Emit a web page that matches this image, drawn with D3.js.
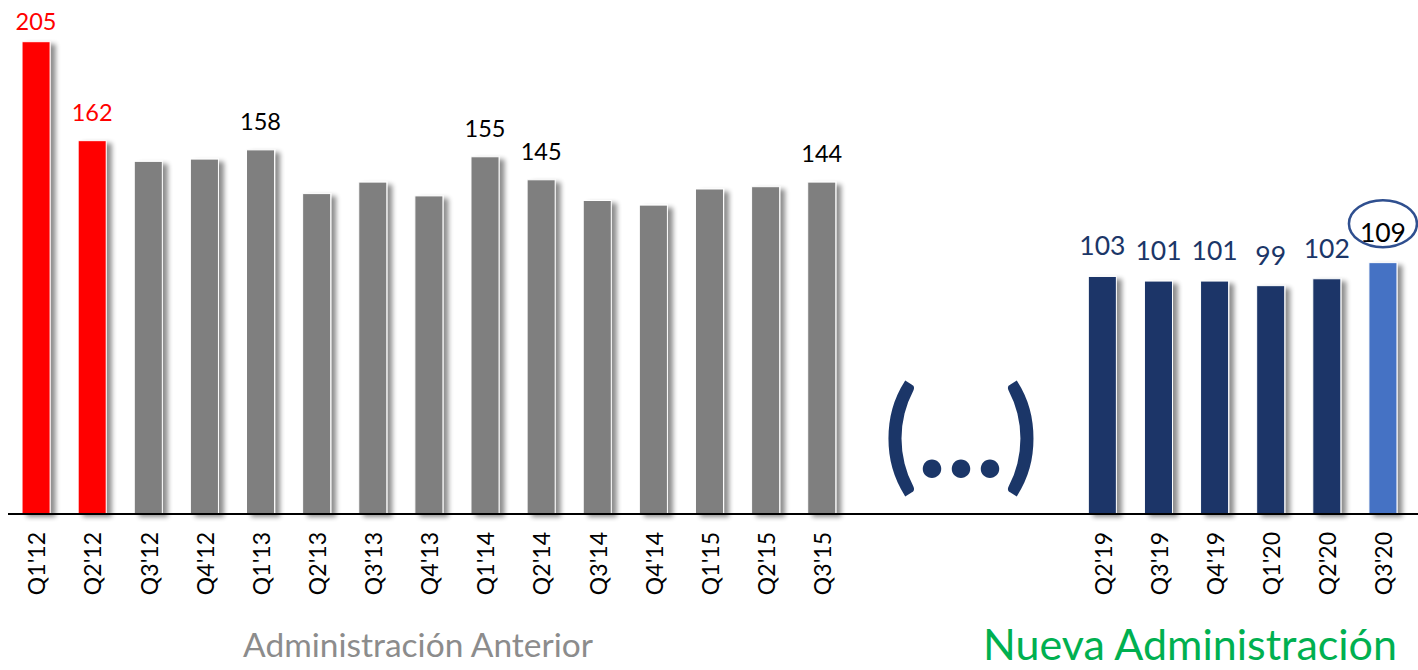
<!DOCTYPE html>
<html>
<head>
<meta charset="utf-8">
<script src="https://cdn.jsdelivr.net/npm/d3@7"></script>
<style>
  body { margin: 0; background: #fff; }
  svg { display: block; font-family: Lato, "Open Sans", sans-serif; }
</style>
</head>
<body>
<div id="chart"></div>
<script>
// quarters of the previous administration
const oldQuarters = ["Q1'12", "Q2'12", "Q3'12", "Q4'12", "Q1'13", "Q2'13", "Q3'13", "Q4'13",
                     "Q1'14", "Q2'14", "Q3'14", "Q4'14", "Q1'15", "Q2'15", "Q3'15"];
const oldValues = [205, 162, 153, 154, 158, 139, 144, 138, 155, 145, 136, 134, 141, 142, 144];
const oldLabeled = ["Q1'12", "Q2'12", "Q1'13", "Q1'14", "Q2'14", "Q3'15"];

// empty slots standing for the "(...)" break
const gapSlots = ["gap1", "gap2", "gap3", "gap4"];

// quarters of the new administration
const newQuarters = ["Q2'19", "Q3'19", "Q4'19", "Q1'20", "Q2'20", "Q3'20"];
const newValues = [103, 101, 101, 99, 102, 109];

const highlighted = ["Q1'12", "Q2'12"];   // red bars
const current = "Q3'20";                   // light blue bar, circled label

const width = 1418, height = 670;
const baseline = 513.5;

const svg = d3.select('#chart').append('svg')
  .attr('width', width)
  .attr('height', height);

// soft shadow to the right of every bar
const defs = svg.append('defs');
const filter = defs.append('filter')
  .attr('id', 'shadow')
  .attr('x', '-20%').attr('y', '-5%')
  .attr('width', '160%').attr('height', '110%');
filter.append('feGaussianBlur').attr('in', 'SourceAlpha').attr('stdDeviation', 2.6).attr('result', 'blur');
filter.append('feOffset').attr('in', 'blur').attr('dx', 5).attr('dy', 3).attr('result', 'off');
filter.append('feComponentTransfer').attr('in', 'off').attr('result', 'shade')
  .append('feFuncA').attr('type', 'linear').attr('slope', 0.45);
const merge = filter.append('feMerge');
merge.append('feMergeNode').attr('in', 'shade');
merge.append('feMergeNode').attr('in', 'SourceGraphic');

const data = oldQuarters.map((q, i) => ({q: q, v: oldValues[i], side: 'old'}))
  .concat(newQuarters.map((q, i) => ({q: q, v: newValues[i], side: 'new'})));

const x = d3.scaleBand()
  .domain(oldQuarters.concat(gapSlots, newQuarters))
  .range([8, 1411])
  .paddingInner(0.5)
  .paddingOuter(0.25);

const y = d3.scaleLinear()
  .domain([0, 205])
  .range([baseline, 41.7]);

const barColor = (d) => {
  if (highlighted.includes(d.q)) return '#ff0000';
  if (d.q === current) return '#4472c4';
  return d.side === 'old' ? '#7f7f7f' : '#1b3668';
};

svg.append('g')
  .selectAll('rect')
  .data(data)
  .enter().append('rect')
  .attr('x', (d) => x(d.q))
  .attr('y', (d) => y(d.v))
  .attr('width', x.bandwidth())
  .attr('height', (d) => baseline - y(d.v))
  .attr('fill', barColor)
  .attr('stroke', '#fff')
  .attr('stroke-width', 1)
  .attr('filter', 'url(#shadow)');

// axis line
svg.append('line')
  .attr('x1', 8).attr('x2', width)
  .attr('y1', 514).attr('y2', 514)
  .attr('stroke', '#000')
  .attr('stroke-width', 2);

// rotated tick labels, only for real quarters
const xAxis = d3.axisBottom(x).tickSize(0).tickValues(oldQuarters.concat(newQuarters));
const axisG = svg.append('g')
  .attr('transform', 'translate(0,' + 514 + ')')
  .call(xAxis);
axisG.select('.domain').remove();
axisG.selectAll('text')
  .attr('transform', 'translate(1,18) rotate(-90)')
  .attr('x', 0).attr('y', 0)
  .attr('dy', '0.36em')
  .style('text-anchor', 'end')
  .style('font-size', '23px')
  .style('font-family', 'Lato, sans-serif')
  .attr('fill', '#000');

// value labels, previous administration
svg.append('g')
  .selectAll('text')
  .data(data.filter((d) => oldLabeled.includes(d.q)))
  .enter().append('text')
  .attr('x', (d) => x(d.q) + x.bandwidth() / 2)
  .attr('y', (d) => Math.max(y(d.v) - 20, 30))
  .attr('text-anchor', 'middle')
  .style('font-size', '23.5px')
  .attr('fill', (d) => highlighted.includes(d.q) ? '#ff0000' : '#000')
  .text((d) => d.v);

// value labels, new administration
svg.append('g')
  .selectAll('text')
  .data(data.filter((d) => d.side === 'new'))
  .enter().append('text')
  .attr('x', (d) => x(d.q) + x.bandwidth() / 2)
  .attr('y', (d) => y(d.v) - 21)
  .attr('text-anchor', 'middle')
  .style('font-size', '26.5px')
  .attr('fill', (d) => d.q === current ? '#000' : '#1b3668')
  .text((d) => d.v);

// circle around the latest value
const cur = data.find((d) => d.q === current);
svg.append('ellipse')
  .attr('cx', x(cur.q) + x.bandwidth() / 2)
  .attr('cy', y(cur.v) - 39)
  .attr('rx', 34)
  .attr('ry', 23.5)
  .attr('fill', 'none')
  .attr('stroke', '#2f4f8f')
  .attr('stroke-width', 2.5);

// break marker between the two periods
svg.append('text')
  .attr('x', (x(gapSlots[1]) + x(gapSlots[2]) + x.bandwidth()) / 2 - 1)
  .attr('y', 477)
  .attr('text-anchor', 'middle')
  .style('font-size', '122px')
  .style('font-weight', 'bold')
  .attr('fill', '#1b3668')
  .text('(...)');

// period titles
svg.append('text')
  .attr('x', 418)
  .attr('y', 657)
  .attr('text-anchor', 'middle')
  .style('font-size', '33.5px')
  .attr('fill', '#8c8c8c')
  .text('Administración Anterior');

svg.append('text')
  .attr('x', 1190)
  .attr('y', 660)
  .attr('text-anchor', 'middle')
  .style('font-size', '43px')
  .attr('fill', '#00b050')
  .text('Nueva Administración');
</script>
</body>
</html>
